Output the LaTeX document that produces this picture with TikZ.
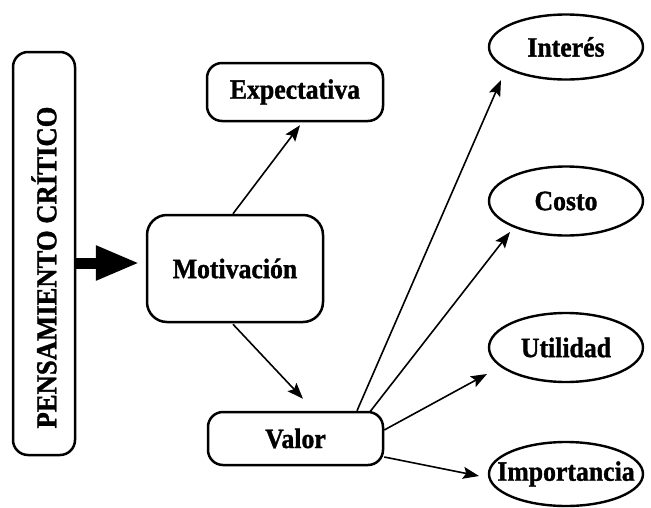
\documentclass[tikz,border=0pt]{standalone}
\usepackage{fontspec}
\setmainfont{Liberation Serif}
\newfontfamily\labfont{Liberation Serif}[FakeStretch=0.92,FakeBold=1.2]
\usetikzlibrary{shapes.geometric,arrows.meta,calc}
\begin{document}
\begin{tikzpicture}[x=1pt,y=-1pt,
  every node/.style={font=\labfont\fontsize{28}{32}\selectfont\bfseries, inner sep=0pt},
  rbox/.style={draw, line width=2.5pt, rounded corners=15pt},
  ell/.style={draw, ellipse, line width=2.4pt, minimum width=154pt},
  arr/.style={line width=1.6pt, -{Stealth[length=16pt,width=12pt,inset=3pt]}},
  bigarr/.style={line width=11pt, -{Triangle[length=44pt,width=32pt]}}
]
\useasboundingbox (0,0) rectangle (651,507);
% boxes
\node[rbox, rotate=90, minimum width=403pt, minimum height=62pt, font=\labfont\fontsize{29}{32}\selectfont\bfseries] (pc) at (44,253.5) {PENSAMIENTO CRÍTICO\hspace*{28pt}};
\node[rbox, rounded corners=20pt, minimum width=176pt, minimum height=107pt] (mot) at (235,268.5) {Motivación};
\node[rbox, minimum width=176pt, minimum height=58pt] (exp) at (295,92) {Expectativa};
\node[rbox, minimum width=175pt, minimum height=53pt] (val) at (295.5,438.5) {Valor};
% ellipses
\node[ell, minimum height=65pt, label={center:Interés}] (int) at (566,47) {};
\node[ell, minimum height=69pt, label={center:Costo}] (cos) at (566,201) {};
\node[ell, minimum height=69pt, label={center:Utilidad}] (utl) at (566,347.5) {};
\node[ell, minimum height=64pt, label={center:Importancia}] (imp) at (566,474) {};
% thick arrow
\coordinate (tip) at ($(mot.west)+(-6,-5.5)$);
\draw[bigarr] (pc.south |- tip) -- (tip);
% thin arrows
\draw[arr] ($(mot.north)+(-2,0)$) -- ($(exp.south)+(5,3)$);
\draw[arr] ($(mot.south)+(-2,1)$) -- ($(val.north)+(7.5,-12)$);
\draw[arr] ($(val.north)+(61.5,0)$) -- ($(int.center)+(-65,33)$);
\draw[arr] ($(val.north)+(74.5,1)$) -- ($(cos.center)+(-56,31)$);
\draw[arr] ($(val.east)+(0,-8.5)$) -- ($(utl.center)+(-79,26.5)$);
\draw[arr] ($(val.east)+(0,18.5)$) -- ($(imp.center)+(-87,2)$);
\end{tikzpicture}
\end{document}
